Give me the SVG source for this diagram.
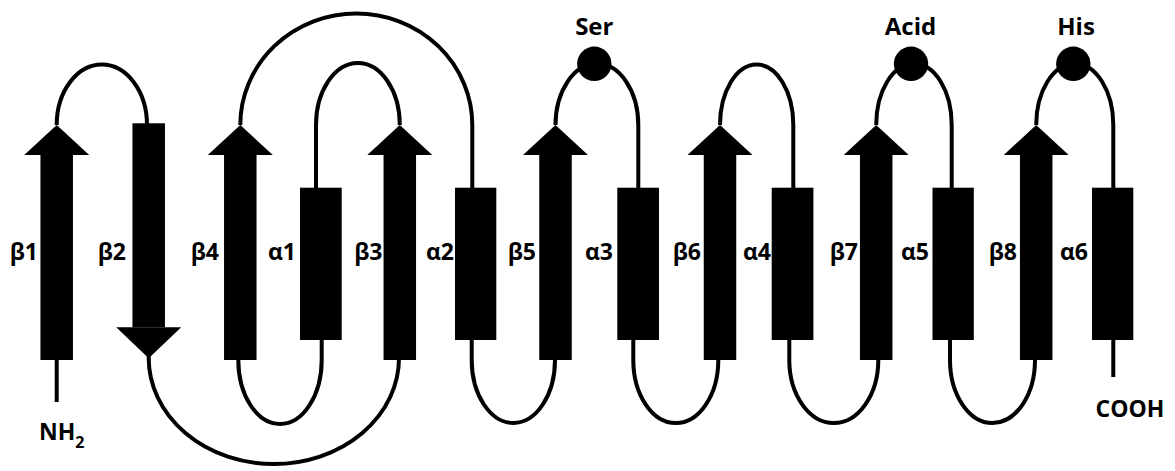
<svg xmlns="http://www.w3.org/2000/svg" width="1175" height="471" viewBox="0 0 1175 471">
  <style>
    .strand, .helix, .site { fill: #000; }
    .loop { fill: none; stroke: #000; stroke-width: 4; }
    text { font-family: "Open Sans", "Liberation Sans", sans-serif; font-weight: 700; font-size: 23px; fill: #000; }
    .lbl { text-anchor: end; }
    .res { text-anchor: middle; font-size: 24px; }
  </style>
  <rect width="1175" height="471" fill="#fff"/>

  <!-- chain: loops between secondary-structure elements -->
  <g id="connectors" class="loop">
    <path d="M56.7 360 V402"/>
    <path d="M1113.3 340 V377"/>
    <!-- upper loops -->
    <path d="M56.7 125 A45.15 60.5 0 0 1 147 125"/>
    <path d="M399.8 125 A41.9 62 0 0 0 316 125 V188"/>
    <path d="M240.3 125 A116 111.5 0 0 1 472.3 125 V188"/>
    <path d="M555.5 125 A41.4 61.5 0 0 1 638.3 125 V188"/>
    <path d="M720 125 A36.65 60.5 0 0 1 793.3 125 V188"/>
    <path d="M876.2 125 A37.75 61.5 0 0 1 951.7 125 V188"/>
    <path d="M1036.2 125 A38.55 61.5 0 0 1 1113.3 125 V188"/>
    <!-- lower loops -->
    <path d="M148.7 356 V358 A125.15 106 0 0 0 399 358"/>
    <path d="M321.7 340 V360 A41.7 64 0 0 1 238.3 360"/>
    <path d="M471.7 340 V360 A41.65 63 0 0 0 555 360"/>
    <path d="M633.3 340 V360 A42.5 63 0 0 0 718.3 360"/>
    <path d="M789.3 340 V360 A44.5 63 0 0 0 878.3 360"/>
    <path d="M950 340 V360 A42.5 63 0 0 0 1035 360"/>
  </g>

  <!-- beta strands -->
  <g id="beta1" class="strand">
    <rect x="40.45" y="155" width="32.5" height="205"/>
    <polygon points="24.2,155 56.7,125 89.2,155"/>
    <text class="lbl" x="38" y="259.5">β1</text>
  </g>
  <g id="beta2" class="strand">
    <rect x="132.45" y="123.3" width="32.5" height="204"/>
    <polygon points="116.2,327.3 181.2,327.3 148.7,358.3"/>
    <text class="lbl" x="126" y="259.5">β2</text>
  </g>
  <g id="beta4" class="strand">
    <rect x="224.05" y="155" width="32.5" height="205"/>
    <polygon points="207.8,155 240.3,125 272.8,155"/>
    <text class="lbl" x="219" y="259.5">β4</text>
  </g>
  <g id="beta3" class="strand">
    <rect x="383.55" y="155" width="32.5" height="205"/>
    <polygon points="367.3,155 399.8,125 432.3,155"/>
    <text class="lbl" x="382.5" y="259.5">β3</text>
  </g>
  <g id="beta5" class="strand">
    <rect x="539.25" y="155" width="32.5" height="205"/>
    <polygon points="523,155 555.5,125 588,155"/>
    <text class="lbl" x="536" y="259.5">β5</text>
  </g>
  <g id="beta6" class="strand">
    <rect x="703.75" y="155" width="32.5" height="205"/>
    <polygon points="687.5,155 720,125 752.5,155"/>
    <text class="lbl" x="701" y="259.5">β6</text>
  </g>
  <g id="beta7" class="strand">
    <rect x="859.95" y="155" width="32.5" height="205"/>
    <polygon points="843.7,155 876.2,125 908.7,155"/>
    <text class="lbl" x="858" y="259.5">β7</text>
  </g>
  <g id="beta8" class="strand">
    <rect x="1019.95" y="155" width="32.5" height="205"/>
    <polygon points="1003.7,155 1036.2,125 1068.7,155"/>
    <text class="lbl" x="1017" y="259.5">β8</text>
  </g>

  <!-- alpha helices -->
  <g id="alpha1" class="helix">
    <rect x="300" y="187.7" width="41.7" height="152.3"/>
    <text class="lbl" x="296" y="259.5">α1</text>
  </g>
  <g id="alpha2" class="helix">
    <rect x="455" y="187.7" width="41.3" height="152.3"/>
    <text class="lbl" x="454" y="259.5">α2</text>
  </g>
  <g id="alpha3" class="helix">
    <rect x="617.3" y="187.7" width="41.7" height="152.3"/>
    <text class="lbl" x="613" y="259.5">α3</text>
  </g>
  <g id="alpha4" class="helix">
    <rect x="771.7" y="187.7" width="41.7" height="152.3"/>
    <text class="lbl" x="771" y="259.5">α4</text>
  </g>
  <g id="alpha5" class="helix">
    <rect x="932.5" y="187.7" width="41.3" height="152.3"/>
    <text class="lbl" x="929" y="259.5">α5</text>
  </g>
  <g id="alpha6" class="helix">
    <rect x="1092" y="187.7" width="41.3" height="152.3"/>
    <text class="lbl" x="1088" y="259.5">α6</text>
  </g>

  <!-- catalytic triad residues -->
  <g id="ser" class="site">
    <circle cx="594.3" cy="63.8" r="17.2"/>
    <text class="res" x="594.3" y="35">Ser</text>
  </g>
  <g id="acid" class="site">
    <circle cx="911" cy="63.8" r="17.2"/>
    <text class="res" x="910.5" y="34.5">Acid</text>
  </g>
  <g id="his" class="site">
    <circle cx="1073.3" cy="63.8" r="17.2"/>
    <text class="res" x="1076" y="35">His</text>
  </g>

  <!-- termini -->
  <g id="n-terminus">
    <text x="39" y="440">NH<tspan font-size="16" dy="8">2</tspan></text>
  </g>
  <g id="c-terminus">
    <text x="1095.5" y="417.3">COOH</text>
  </g>
</svg>
